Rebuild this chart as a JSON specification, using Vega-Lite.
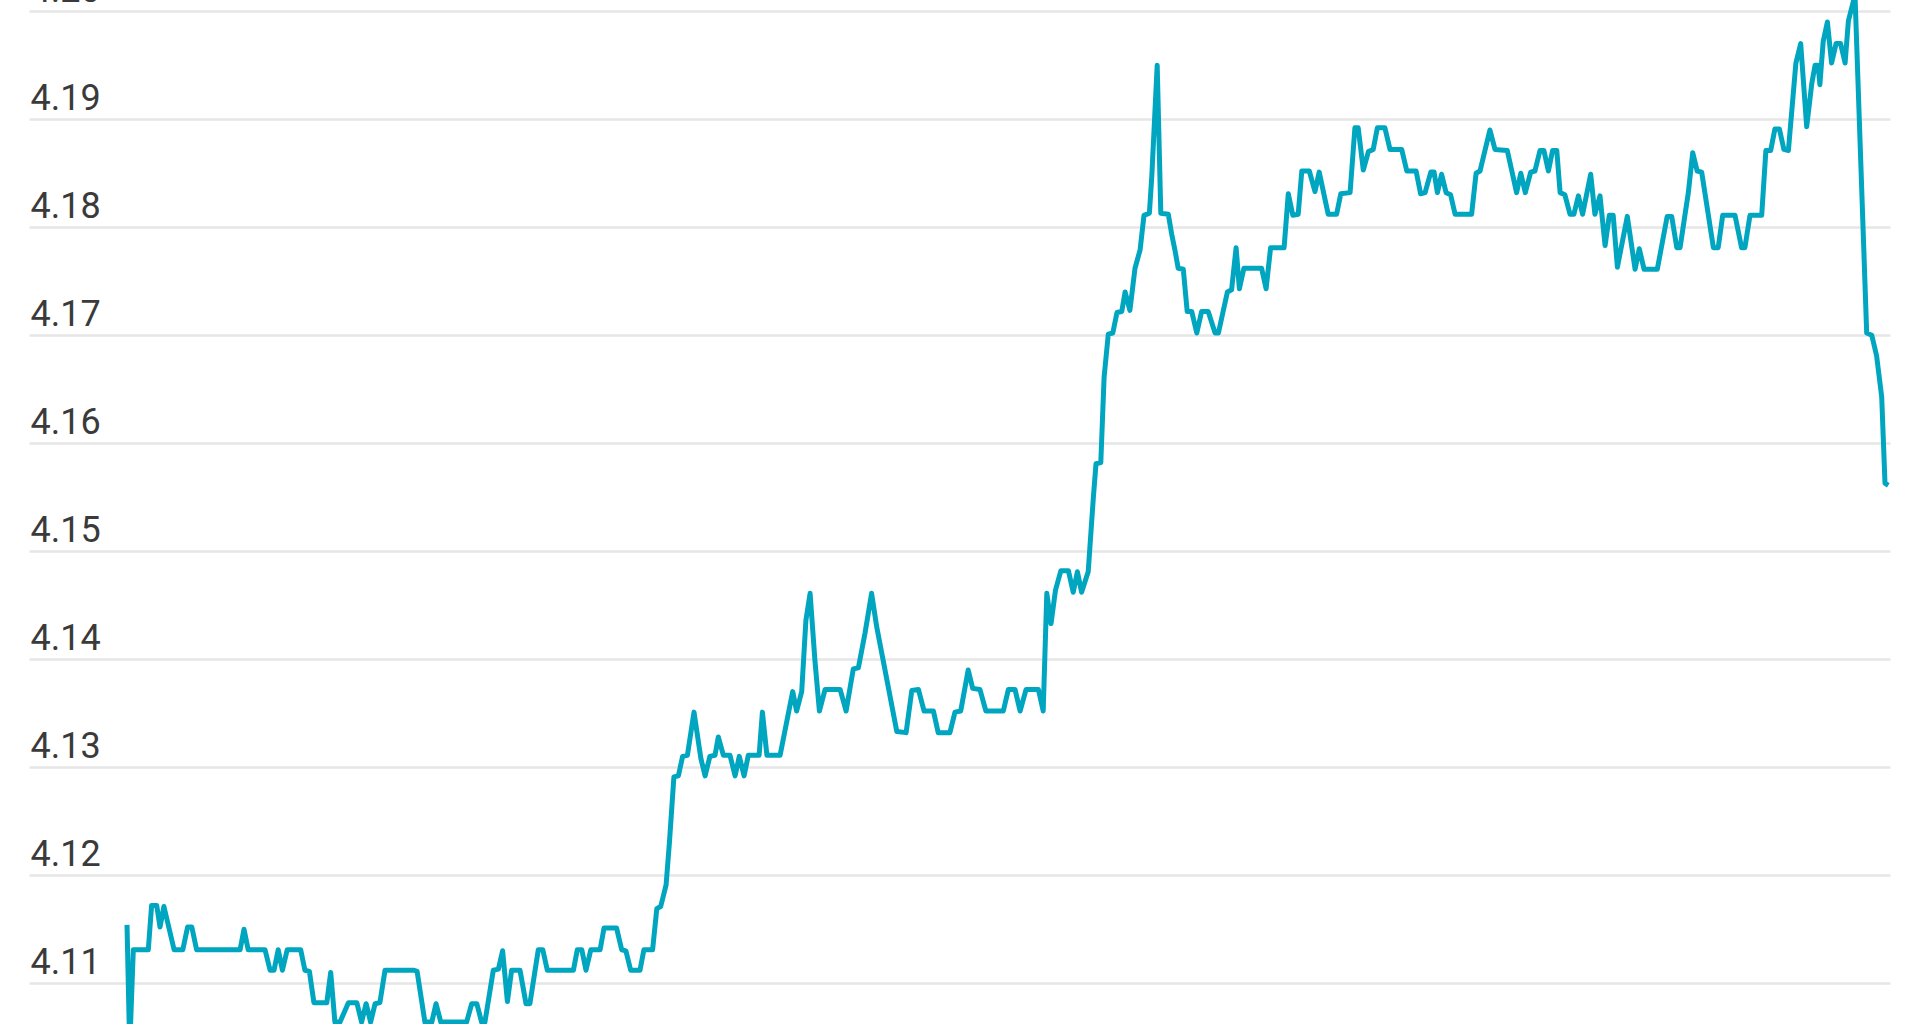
{
  "$schema": "https://vega.github.io/schema/vega-lite/v6.json",
  "width": 1861,
  "height": 1024,
  "autosize": "none",
  "padding": {"left": 29, "right": 30, "top": 0, "bottom": 0},
  "background": "white",
  "config": {
    "view": {"stroke": null},
    "axis": {
      "labelFont": "Roboto",
      "labelFontWeight": 400,
      "labelFontSize": 36,
      "labelColor": "#3a3a3a"
    }
  },
  "data": {
    "values": [
      {"t": 0, "rate": 4.1154}, {"t": 0.9, "rate": 4.104}, {"t": 2.1, "rate": 4.1131}, {"t": 7.1, "rate": 4.1131},
      {"t": 8.2, "rate": 4.1172}, {"t": 9.9, "rate": 4.1172}, {"t": 11.0, "rate": 4.1152}, {"t": 12.3, "rate": 4.1171},
      {"t": 15.7, "rate": 4.1131}, {"t": 18.6, "rate": 4.1131}, {"t": 20.2, "rate": 4.1152}, {"t": 21.6, "rate": 4.1152},
      {"t": 23.2, "rate": 4.1131}, {"t": 37.7, "rate": 4.1131}, {"t": 39.0, "rate": 4.115}, {"t": 40.4, "rate": 4.1131},
      {"t": 46.0, "rate": 4.1131}, {"t": 47.7, "rate": 4.1112}, {"t": 49.0, "rate": 4.1112}, {"t": 50.4, "rate": 4.1131},
      {"t": 51.8, "rate": 4.1112}, {"t": 53.4, "rate": 4.1131}, {"t": 57.9, "rate": 4.1131}, {"t": 59.3, "rate": 4.1112},
      {"t": 60.8, "rate": 4.1111}, {"t": 62.3, "rate": 4.1082}, {"t": 66.6, "rate": 4.1082}, {"t": 67.9, "rate": 4.111},
      {"t": 69.3, "rate": 4.1064}, {"t": 71.0, "rate": 4.1064}, {"t": 73.8, "rate": 4.1082}, {"t": 76.6, "rate": 4.1082},
      {"t": 78.2, "rate": 4.1064}, {"t": 79.7, "rate": 4.1081}, {"t": 81.2, "rate": 4.1064}, {"t": 82.7, "rate": 4.1081},
      {"t": 84.3, "rate": 4.1082}, {"t": 86.0, "rate": 4.1112}, {"t": 95.7, "rate": 4.1112}, {"t": 96.7, "rate": 4.1111},
      {"t": 99.3, "rate": 4.1064}, {"t": 101.6, "rate": 4.1064}, {"t": 103.0, "rate": 4.1081}, {"t": 104.6, "rate": 4.1064},
      {"t": 113.2, "rate": 4.1064}, {"t": 114.9, "rate": 4.1081}, {"t": 116.6, "rate": 4.1081}, {"t": 118.2, "rate": 4.1064},
      {"t": 119.3, "rate": 4.1064}, {"t": 122.1, "rate": 4.1112}, {"t": 123.8, "rate": 4.1113}, {"t": 125.2, "rate": 4.113},
      {"t": 126.8, "rate": 4.1083}, {"t": 128.2, "rate": 4.1112}, {"t": 131.0, "rate": 4.1112}, {"t": 133.0, "rate": 4.1081},
      {"t": 134.3, "rate": 4.1081}, {"t": 137.1, "rate": 4.1131}, {"t": 138.6, "rate": 4.1131}, {"t": 140.1, "rate": 4.1112},
      {"t": 148.8, "rate": 4.1112}, {"t": 150.1, "rate": 4.1131}, {"t": 151.6, "rate": 4.1131}, {"t": 153.0, "rate": 4.1112},
      {"t": 154.6, "rate": 4.1131}, {"t": 157.7, "rate": 4.1131}, {"t": 159.0, "rate": 4.1151}, {"t": 163.2, "rate": 4.1151},
      {"t": 164.9, "rate": 4.1131}, {"t": 166.3, "rate": 4.113}, {"t": 167.9, "rate": 4.1112}, {"t": 171.0, "rate": 4.1112},
      {"t": 172.3, "rate": 4.1131}, {"t": 175.2, "rate": 4.1131}, {"t": 176.6, "rate": 4.1169}, {"t": 177.9, "rate": 4.1171},
      {"t": 179.7, "rate": 4.1191}, {"t": 180.8, "rate": 4.123}, {"t": 182.3, "rate": 4.1291}, {"t": 183.8, "rate": 4.1292},
      {"t": 185.2, "rate": 4.131}, {"t": 186.8, "rate": 4.1311}, {"t": 189.0, "rate": 4.1351}, {"t": 191.3, "rate": 4.1308},
      {"t": 192.7, "rate": 4.1292}, {"t": 194.3, "rate": 4.131}, {"t": 196.0, "rate": 4.1311}, {"t": 197.1, "rate": 4.1328},
      {"t": 198.8, "rate": 4.1311}, {"t": 201.0, "rate": 4.1311}, {"t": 202.7, "rate": 4.1292}, {"t": 204.1, "rate": 4.131},
      {"t": 205.7, "rate": 4.1292}, {"t": 207.1, "rate": 4.1311}, {"t": 210.7, "rate": 4.1311}, {"t": 211.8, "rate": 4.1351},
      {"t": 213.3, "rate": 4.1311}, {"t": 217.7, "rate": 4.1311}, {"t": 221.9, "rate": 4.137}, {"t": 223.2, "rate": 4.1352},
      {"t": 224.9, "rate": 4.137}, {"t": 226.3, "rate": 4.1436}, {"t": 227.7, "rate": 4.1461}, {"t": 229.3, "rate": 4.1399},
      {"t": 230.8, "rate": 4.1352}, {"t": 232.7, "rate": 4.1372}, {"t": 237.7, "rate": 4.1372}, {"t": 239.7, "rate": 4.1352},
      {"t": 242.1, "rate": 4.1391}, {"t": 243.8, "rate": 4.1392}, {"t": 246.0, "rate": 4.1424}, {"t": 248.2, "rate": 4.1461},
      {"t": 249.9, "rate": 4.143}, {"t": 256.6, "rate": 4.1333}, {"t": 259.7, "rate": 4.1332}, {"t": 261.6, "rate": 4.1371},
      {"t": 263.8, "rate": 4.1372}, {"t": 265.7, "rate": 4.1352}, {"t": 268.8, "rate": 4.1352}, {"t": 270.4, "rate": 4.1332},
      {"t": 274.3, "rate": 4.1332}, {"t": 276.0, "rate": 4.1351}, {"t": 277.9, "rate": 4.1352}, {"t": 280.4, "rate": 4.139},
      {"t": 281.9, "rate": 4.1373}, {"t": 284.3, "rate": 4.1372}, {"t": 286.3, "rate": 4.1352}, {"t": 292.1, "rate": 4.1352},
      {"t": 293.8, "rate": 4.1372}, {"t": 296.0, "rate": 4.1372}, {"t": 297.7, "rate": 4.1352}, {"t": 299.7, "rate": 4.1372},
      {"t": 303.8, "rate": 4.1372}, {"t": 305.4, "rate": 4.1352}, {"t": 306.6, "rate": 4.1461}, {"t": 308.0, "rate": 4.1433},
      {"t": 309.5, "rate": 4.1464}, {"t": 311.3, "rate": 4.1482}, {"t": 313.8, "rate": 4.1482}, {"t": 315.4, "rate": 4.1462},
      {"t": 316.8, "rate": 4.1481}, {"t": 318.2, "rate": 4.1462}, {"t": 320.4, "rate": 4.1481}, {"t": 322.1, "rate": 4.1549},
      {"t": 323.0, "rate": 4.1581}, {"t": 324.6, "rate": 4.1582}, {"t": 325.7, "rate": 4.1661}, {"t": 327.1, "rate": 4.1701},
      {"t": 328.6, "rate": 4.1702}, {"t": 330.0, "rate": 4.1721}, {"t": 331.6, "rate": 4.1722}, {"t": 332.7, "rate": 4.174},
      {"t": 334.3, "rate": 4.1723}, {"t": 336.0, "rate": 4.1762}, {"t": 337.7, "rate": 4.1779}, {"t": 339.0, "rate": 4.1811},
      {"t": 340.8, "rate": 4.1813}, {"t": 341.6, "rate": 4.1847}, {"t": 343.4, "rate": 4.195}, {"t": 344.6, "rate": 4.1813},
      {"t": 347.1, "rate": 4.1812}, {"t": 348.2, "rate": 4.1794}, {"t": 349.3, "rate": 4.1779}, {"t": 350.4, "rate": 4.1762},
      {"t": 352.1, "rate": 4.1761}, {"t": 353.4, "rate": 4.1722}, {"t": 354.9, "rate": 4.1722}, {"t": 356.6, "rate": 4.1702},
      {"t": 358.2, "rate": 4.1722}, {"t": 360.4, "rate": 4.1722}, {"t": 362.7, "rate": 4.1702}, {"t": 363.8, "rate": 4.1702},
      {"t": 366.8, "rate": 4.174}, {"t": 368.2, "rate": 4.1742}, {"t": 369.7, "rate": 4.1781}, {"t": 370.8, "rate": 4.1743},
      {"t": 372.3, "rate": 4.1762}, {"t": 378.2, "rate": 4.1762}, {"t": 379.7, "rate": 4.1743}, {"t": 381.2, "rate": 4.1781},
      {"t": 385.7, "rate": 4.1781}, {"t": 387.1, "rate": 4.1831}, {"t": 388.6, "rate": 4.1811}, {"t": 390.4, "rate": 4.1812},
      {"t": 391.6, "rate": 4.1852}, {"t": 394.1, "rate": 4.1852}, {"t": 396.0, "rate": 4.1833}, {"t": 397.4, "rate": 4.1851},
      {"t": 400.4, "rate": 4.1812}, {"t": 403.2, "rate": 4.1812}, {"t": 404.6, "rate": 4.1831}, {"t": 407.7, "rate": 4.1832},
      {"t": 409.3, "rate": 4.1892}, {"t": 410.4, "rate": 4.1892}, {"t": 412.1, "rate": 4.1853}, {"t": 413.8, "rate": 4.187},
      {"t": 415.4, "rate": 4.1872}, {"t": 416.8, "rate": 4.1892}, {"t": 419.3, "rate": 4.1892}, {"t": 421.0, "rate": 4.1872},
      {"t": 424.9, "rate": 4.1872}, {"t": 426.6, "rate": 4.1852}, {"t": 429.7, "rate": 4.1852}, {"t": 431.2, "rate": 4.1831},
      {"t": 432.7, "rate": 4.1832}, {"t": 434.6, "rate": 4.1851}, {"t": 435.7, "rate": 4.1851}, {"t": 436.8, "rate": 4.1832},
      {"t": 438.2, "rate": 4.1849}, {"t": 439.7, "rate": 4.1832}, {"t": 441.2, "rate": 4.183}, {"t": 442.7, "rate": 4.1812},
      {"t": 448.2, "rate": 4.1812}, {"t": 449.7, "rate": 4.185}, {"t": 451.0, "rate": 4.1852}, {"t": 454.3, "rate": 4.189},
      {"t": 456.0, "rate": 4.1872}, {"t": 460.1, "rate": 4.1871}, {"t": 463.2, "rate": 4.1832}, {"t": 464.6, "rate": 4.185},
      {"t": 466.1, "rate": 4.1832}, {"t": 467.9, "rate": 4.1851}, {"t": 469.3, "rate": 4.1852}, {"t": 471.0, "rate": 4.1871},
      {"t": 472.3, "rate": 4.1871}, {"t": 473.8, "rate": 4.1852}, {"t": 475.2, "rate": 4.1871}, {"t": 476.6, "rate": 4.1871},
      {"t": 477.7, "rate": 4.1832}, {"t": 479.3, "rate": 4.183}, {"t": 481.0, "rate": 4.1812}, {"t": 482.3, "rate": 4.1812},
      {"t": 483.8, "rate": 4.1829}, {"t": 485.2, "rate": 4.1812}, {"t": 487.9, "rate": 4.1849}, {"t": 489.3, "rate": 4.1812},
      {"t": 491.0, "rate": 4.1829}, {"t": 492.7, "rate": 4.1783}, {"t": 494.1, "rate": 4.1811}, {"t": 495.4, "rate": 4.1811},
      {"t": 496.8, "rate": 4.1763}, {"t": 500.1, "rate": 4.181}, {"t": 502.7, "rate": 4.1761}, {"t": 504.1, "rate": 4.178},
      {"t": 505.7, "rate": 4.1761}, {"t": 510.1, "rate": 4.1761}, {"t": 513.4, "rate": 4.181}, {"t": 514.9, "rate": 4.181},
      {"t": 516.6, "rate": 4.1781}, {"t": 517.7, "rate": 4.1781}, {"t": 519.3, "rate": 4.1811}, {"t": 520.4, "rate": 4.1831},
      {"t": 521.9, "rate": 4.1869}, {"t": 523.4, "rate": 4.1852}, {"t": 524.9, "rate": 4.1851}, {"t": 528.8, "rate": 4.1781},
      {"t": 530.4, "rate": 4.1781}, {"t": 531.9, "rate": 4.1811}, {"t": 536.0, "rate": 4.1811}, {"t": 538.2, "rate": 4.1781},
      {"t": 539.3, "rate": 4.1781}, {"t": 541.0, "rate": 4.1811}, {"t": 544.9, "rate": 4.1811}, {"t": 546.3, "rate": 4.1871},
      {"t": 547.9, "rate": 4.1871}, {"t": 549.3, "rate": 4.1891}, {"t": 550.8, "rate": 4.1891}, {"t": 552.3, "rate": 4.1872},
      {"t": 553.8, "rate": 4.1871}, {"t": 556.3, "rate": 4.1952}, {"t": 557.9, "rate": 4.197}, {"t": 559.9, "rate": 4.1893},
      {"t": 561.6, "rate": 4.1933}, {"t": 562.7, "rate": 4.195}, {"t": 563.7, "rate": 4.195}, {"t": 564.3, "rate": 4.1932},
      {"t": 565.4, "rate": 4.1972}, {"t": 566.8, "rate": 4.199}, {"t": 568.2, "rate": 4.1952}, {"t": 569.7, "rate": 4.197},
      {"t": 571.2, "rate": 4.197}, {"t": 572.7, "rate": 4.1952}, {"t": 573.8, "rate": 4.1991}, {"t": 576.0, "rate": 4.2015},
      {"t": 579.9, "rate": 4.1702}, {"t": 581.6, "rate": 4.17}, {"t": 583.2, "rate": 4.1681}, {"t": 584.9, "rate": 4.1643},
      {"t": 586.0, "rate": 4.1563}, {"t": 587.1, "rate": 4.1561}
    ]
  },
  "mark": {
    "type": "line",
    "clip": true,
    "color": "#00a5bf",
    "strokeWidth": 5,
    "strokeJoin": "round",
    "strokeCap": "butt"
  },
  "encoding": {
    "x": {
      "field": "t",
      "type": "quantitative",
      "scale": {"domain": [-32.67, 587.67], "nice": false, "zero": false},
      "axis": null
    },
    "y": {
      "field": "rate",
      "type": "quantitative",
      "scale": {"domain": [4.106222, 4.201037], "nice": false, "zero": false},
      "axis": {
        "title": null,
        "values": [4.11, 4.12, 4.13, 4.14, 4.15, 4.16, 4.17, 4.18, 4.19, 4.2],
        "format": ".2f",
        "domain": false,
        "ticks": false,
        "tickSize": 0,
        "grid": true,
        "gridColor": "#e6e6e6",
        "gridWidth": 2.5,
        "labelAlign": "left",
        "labelBaseline": "alphabetic",
        "labelPadding": -1,
        "labelOffset": -10,
        "labelFlush": false,
        "labelOverlap": false
      }
    }
  }
}
